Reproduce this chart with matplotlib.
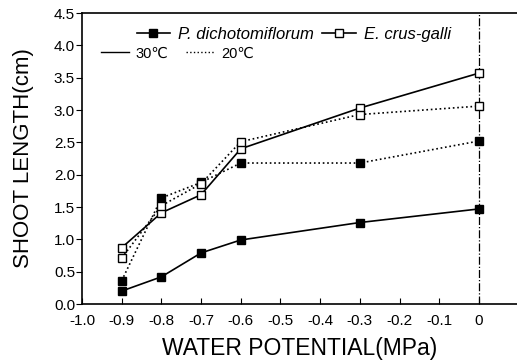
import matplotlib
matplotlib.use("Agg")
import matplotlib.pyplot as plt
from matplotlib.lines import Line2D

plt.rcParams['font.family'] = ['Liberation Sans', 'DejaVu Sans']

water_potential = [-0.9, -0.8, -0.7, -0.6, -0.3, 0.0]
pd_30 = [0.20, 0.42, 0.79, 0.99, 1.26, 1.47]
pd_20 = [0.36, 1.64, 1.88, 2.18, 2.18, 2.52]
ec_30 = [0.87, 1.41, 1.69, 2.40, 3.03, 3.57]
ec_20 = [0.71, 1.52, 1.86, 2.51, 2.93, 3.06]

xticks = [-1.0, -0.9, -0.8, -0.7, -0.6, -0.5, -0.4, -0.3, -0.2, -0.1, 0.0]
xticklabels = ['-1.0', '-0.9', '-0.8', '-0.7', '-0.6', '-0.5', '-0.4', '-0.3', '-0.2', '-0.1', '0']
yticks = [0.0, 0.5, 1.0, 1.5, 2.0, 2.5, 3.0, 3.5, 4.0, 4.5]

fig = plt.figure(figsize=(5.17, 3.64), dpi=100)
ax = fig.add_axes([82/517, 1-304/364, 1-82/517, (304-13)/364])

ms = 6
ax.plot(water_potential, pd_30, '-', color='black', lw=1.2, marker='s', ms=ms, mfc='black', mec='black', zorder=3)
ax.plot(water_potential, pd_20, ':', color='black', lw=1.2, marker='s', ms=ms, mfc='black', mec='black', zorder=3)
ax.plot(water_potential, ec_30, '-', color='black', lw=1.2, marker='s', ms=ms, mfc='white', mec='black', zorder=3)
ax.plot(water_potential, ec_20, ':', color='black', lw=1.2, marker='s', ms=ms, mfc='white', mec='black', zorder=3)

ax.axvline(0.0, color='black', lw=0.9, ls='-.', zorder=1)

ax.set_xlim(-1.0, 0.096)
ax.set_ylim(0.0, 4.5)
ax.set_xticks(xticks)
ax.set_xticklabels(xticklabels)
ax.set_yticks(yticks)
ax.set_yticklabels([f'{v:.1f}' for v in yticks])
ax.tick_params(axis='y', direction='out', length=4, labelsize=11, pad=1)
ax.tick_params(axis='x', direction='in', length=4, labelsize=11, pad=7)
ax.spines['right'].set_visible(False)
for s in ['left', 'bottom', 'top']:
    ax.spines[s].set_linewidth(1.2)

ax.set_xlabel('WATER POTENTIAL(MPa)', fontsize=16.5, labelpad=6.5)
ax.set_ylabel('SHOOT LENGTH(cm)', fontsize=16, labelpad=14)

sp_handles = [
    Line2D([], [], color='black', lw=1.2, marker='s', ms=ms, mfc='black', mec='black'),
    Line2D([], [], color='black', lw=1.2, marker='s', ms=ms, mfc='white', mec='black'),
]
leg1 = ax.legend(sp_handles, ['P. dichotomiflorum', 'E. crus-galli'], ncol=2, frameon=False,
                 loc='upper left', bbox_to_anchor=(0.11, 0.975), prop={'style': 'italic', 'size': 12},
                 handlelength=2.0, columnspacing=0.5, handletextpad=0.5, borderaxespad=0)
ax.add_artist(leg1)
t_handles = [
    Line2D([], [], color='black', lw=1.0, ls='-'),
    Line2D([], [], color='black', lw=1.0, ls=':'),
]
ax.legend(t_handles, ['30\u2103', '20\u2103'], ncol=2, frameon=False,
          loc='upper left', bbox_to_anchor=(0.03, 0.905), prop={'size': 10.5},
          handlelength=1.9, columnspacing=1.2, handletextpad=0.5, borderaxespad=0)

fig.savefig('out.png', dpi=100)
